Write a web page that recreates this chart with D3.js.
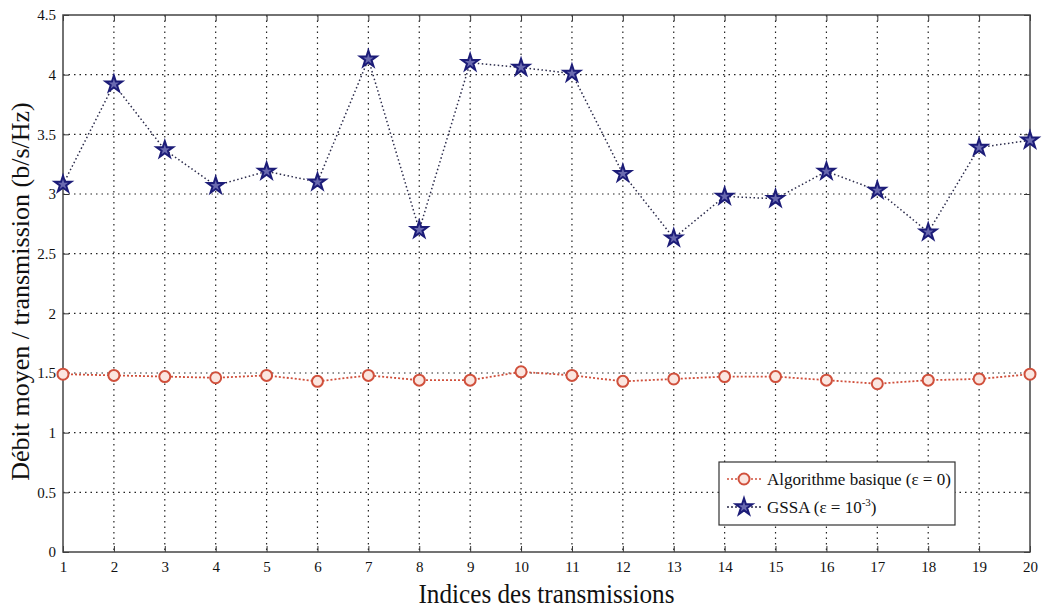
<!DOCTYPE html>
<html>
<head>
<meta charset="utf-8">
<script src="https://cdn.jsdelivr.net/npm/d3@7"></script>
<style>
  body { margin: 0; background: #fff; }
  svg { display: block; }
  text { font-family: "Liberation Serif", "DejaVu Serif", serif; fill: #111; }
</style>
</head>
<body>
<svg id="chart" width="1044" height="610"></svg>
<script>
// transmission indices
var indices = d3.range(1, 21);

// Algorithme basique (eps = 0)
var basique = [1.49, 1.48, 1.47, 1.46, 1.48, 1.43, 1.48, 1.44, 1.44, 1.51,
               1.48, 1.43, 1.45, 1.47, 1.47, 1.44, 1.41, 1.44, 1.45, 1.49];

// GSSA (eps = 1e-3)
var gssa = [3.08, 3.92, 3.37, 3.07, 3.19, 3.10, 4.13, 2.70, 4.10, 4.06,
            4.01, 3.17, 2.63, 2.98, 2.96, 3.19, 3.03, 2.68, 3.39, 3.45];

var yTicks = [0, 0.5, 1, 1.5, 2, 2.5, 3, 3.5, 4, 4.5];

var svg = d3.select("#chart");
var margin = {left: 63, right: 14, top: 15, bottom: 58};
var W = +svg.attr("width"), H = +svg.attr("height");
var plotW = W - margin.left - margin.right;
var plotH = H - margin.top - margin.bottom;

var x = d3.scaleLinear().domain([1, 20]).range([0, plotW]);
var y = d3.scaleLinear().domain([0, 4.5]).range([plotH, 0]);

var g = svg.append("g").attr("transform", "translate(" + margin.left + "," + margin.top + ")");

// dotted grid
g.append("g").selectAll("line").data(indices.slice(1, -1)).join("line")
    .attr("x1", function (d) { return x(d); }).attr("x2", function (d) { return x(d); })
    .attr("y1", 0).attr("y2", plotH)
    .attr("stroke", "#222").attr("stroke-width", 1.2).attr("stroke-dasharray", "1.5,4");
g.append("g").selectAll("line").data(yTicks.slice(1, -1)).join("line")
    .attr("x1", 0).attr("x2", plotW)
    .attr("y1", function (d) { return y(d); }).attr("y2", function (d) { return y(d); })
    .attr("stroke", "#222").attr("stroke-width", 1.2).attr("stroke-dasharray", "1.5,4");

// axes (ticks pointing inside, mirrored on top/right)
var axStyle = function (sel) {
    sel.select(".domain").remove();
    sel.selectAll(".tick line").attr("stroke", "#333");
    sel.selectAll(".tick text").style("font-size", "15px").style("font-family", "Liberation Serif, serif");
};
g.append("g").attr("transform", "translate(0," + plotH + ")")
    .call(d3.axisBottom(x).tickValues(indices).tickSize(-6).tickPadding(9).tickFormat(d3.format("d")))
    .call(axStyle);
g.append("g")
    .call(d3.axisLeft(y).tickValues(yTicks).tickSize(-6).tickPadding(7).tickFormat(function (d) { return d; }))
    .call(axStyle);
g.append("g")
    .call(d3.axisTop(x).tickValues(indices).tickSize(-6).tickFormat(""))
    .call(axStyle);
g.append("g").attr("transform", "translate(" + plotW + ",0)")
    .call(d3.axisRight(y).tickValues(yTicks).tickSize(-6).tickFormat(""))
    .call(axStyle);

g.append("rect").attr("width", plotW).attr("height", plotH)
    .attr("fill", "none").attr("stroke", "#444").attr("stroke-width", 1.5);

// series lines
var line = function (vals) {
    return d3.line().x(function (d, i) { return x(indices[i]); }).y(function (d) { return y(d); })(vals);
};
g.append("path").attr("d", line(basique)).attr("fill", "none")
    .attr("stroke", "#d0503c").attr("stroke-width", 1.8).attr("stroke-dasharray", "2,2");
g.append("path").attr("d", line(gssa)).attr("fill", "none")
    .attr("stroke", "#2a2a4a").attr("stroke-width", 1.5).attr("stroke-dasharray", "1.5,2.5");

// markers
var star = d3.symbol().type(d3.symbolStar).size(85);
g.append("g").selectAll("circle").data(basique).join("circle")
    .attr("cx", function (d, i) { return x(indices[i]); }).attr("cy", function (d) { return y(d); })
    .attr("r", 5.5).attr("fill", "#fbe6e0").attr("stroke", "#d0503c").attr("stroke-width", 2);
g.append("g").selectAll("path").data(gssa).join("path")
    .attr("d", star)
    .attr("transform", function (d, i) { return "translate(" + x(indices[i]) + "," + y(d) + ")"; })
    .attr("fill", "#6a6ab0").attr("stroke", "#1c1c78").attr("stroke-width", 2);

// axis titles
svg.append("text")
    .attr("transform", "translate(29," + (margin.top + plotH / 2 + 8) + ") rotate(-90)")
    .attr("text-anchor", "middle")
    .style("font-size", "26px")
    .text("Débit moyen / transmission (b/s/Hz)");
svg.append("text")
    .attr("x", margin.left + plotW / 2).attr("y", 603)
    .attr("text-anchor", "middle")
    .style("font-size", "28px")
    .attr("transform", "translate(" + (margin.left + plotW / 2) + ",0) scale(0.9,1) translate(" + (-(margin.left + plotW / 2)) + ",0)")
    .text("Indices des transmissions");

// legend
var lg = svg.append("g").attr("transform", "translate(719,462)");
lg.append("rect").attr("width", 236).attr("height", 63)
    .attr("fill", "#fff").attr("stroke", "#333").attr("stroke-width", 1.2);
var rows = [
    {label: "Algorithme basique (ε = 0)", kind: "c"},
    {label: "GSSA (ε = 10", sup: "-3", tail: ")", kind: "s"}
];
rows.forEach(function (r, i) {
    var cy = 17 + i * 28;
    var row = lg.append("g").attr("transform", "translate(0," + cy + ")");
    row.append("line").attr("x1", 8).attr("x2", 42).attr("y1", 0).attr("y2", 0)
        .attr("stroke", r.kind === "c" ? "#d0503c" : "#2a2a4a").attr("stroke-width", 1.6)
        .attr("stroke-dasharray", "2,2");
    if (r.kind === "c") {
        row.append("circle").attr("cx", 25).attr("r", 5.5).attr("fill", "#fbe6e0")
            .attr("stroke", "#d0503c").attr("stroke-width", 2);
    } else {
        row.append("path").attr("d", star).attr("transform", "translate(25,0)")
            .attr("fill", "#6a6ab0").attr("stroke", "#1c1c78").attr("stroke-width", 2);
    }
    var t = row.append("text").attr("x", 48).attr("y", 6).style("font-size", "17px");
    t.append("tspan").text(r.label);
    if (r.sup) {
        t.append("tspan").attr("dy", -7).style("font-size", "11px").text(r.sup);
        t.append("tspan").attr("dy", 7).text(r.tail);
    }
});
</script>
</body>
</html>
